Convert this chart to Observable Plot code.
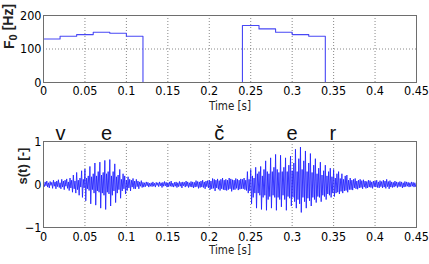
<!DOCTYPE html>
<html>
<head>
<meta charset="utf-8">
<script src="https://cdn.jsdelivr.net/npm/d3@7"></script>
<script src="https://cdn.jsdelivr.net/npm/@observablehq/plot@0.6"></script>
<style>
  html, body { margin: 0; padding: 0; background: #fff; }
  #chart svg { display: block; }
</style>
</head>
<body>
<div id="chart"></div>
<script>
// ---- data ----
const xTicks = [0, 0.05, 0.1, 0.15, 0.2, 0.25, 0.3, 0.35, 0.4, 0.45];
const xTickLabels = ["0", "0.05", "0.1", "0.15", "0.2", "0.25", "0.3", "0.35", "0.4", "0.45"];
const f0Ticks = [0, 100, 200];
const sTicks = [-1, 0, 1];

// F0 contour (step function), time [s] and F0 [Hz]
const f0Times  = [0,   0.02, 0.04, 0.06, 0.08, 0.10, 0.12, 0.24, 0.26, 0.28, 0.30, 0.32, 0.34, 0.45];
const f0Values = [130, 138,  143,  150,  147,  138,  0,    170,  160,  150,  143,  138,  0,    0];

// phoneme labels
const phonemes = ["v", "e", "č", "e", "r"];
const phonemeTimes = [0.0205, 0.076, 0.212, 0.300, 0.349];

// speech waveform s(t), one sample every 1 ms
const sampleStep = 0.001;
const waveA = [ // 0.000 - 0.119 s
  0.02,-0.05,0.06,-0.03,0.08,-0.06,0.04,-0.08,0.07,-0.02,
  0.05,-0.09,0.1,-0.04,0.06,-0.1,0.08,-0.05,0.11,-0.07,
  0.04,-0.1,0.12,-0.06,0.08,-0.12,0.1,-0.04,0.13,-0.09,
  0.06,-0.14,0.15,-0.08,0.1,-0.18,0.22,-0.1,0.08,-0.2,
  0.28,-0.12,0.1,-0.25,0.15,-0.06,0.32,-0.3,0.12,-0.08,
  0.36,-0.38,0.15,-0.1,0.2,-0.14,0.42,-0.45,0.18,-0.12,
  0.25,-0.2,0.5,-0.48,0.2,-0.15,0.3,-0.18,0.52,-0.55,
  0.22,-0.2,0.28,-0.25,0.56,-0.58,0.25,-0.18,0.3,-0.22,
  0.58,-0.5,0.2,-0.25,0.3,-0.15,0.48,-0.42,0.18,-0.2,
  0.22,-0.12,0.35,-0.32,0.12,-0.15,0.25,-0.1,0.2,-0.22,
  0.1,-0.14,0.18,-0.08,0.12,-0.15,0.1,-0.06,0.14,-0.1,
  0.08,-0.1,0.12,-0.05,0.08,-0.1,0.06,-0.04,0.09,-0.07
];
const waveB = [ // 0.120 - 0.239 s
  0.05,-0.06,0.04,-0.05,0.06,-0.03,0.05,-0.06,0.03,-0.04,
  0.04,-0.05,0.06,-0.04,0.03,-0.06,0.05,-0.02,0.04,-0.05,
  0.06,-0.03,0.04,-0.07,0.05,-0.04,0.07,-0.03,0.05,-0.06,
  0.04,-0.05,0.06,-0.04,0.08,-0.05,0.03,-0.06,0.05,-0.04,
  0.06,-0.07,0.04,-0.05,0.07,-0.04,0.05,-0.08,0.06,-0.03,
  0.05,-0.06,0.08,-0.04,0.06,-0.07,0.04,-0.05,0.07,-0.06,
  0.06,-0.08,0.05,-0.06,0.09,-0.05,0.07,-0.09,0.06,-0.07,
  0.08,-0.06,0.1,-0.07,0.06,-0.1,0.08,-0.05,0.09,-0.08,
  0.1,-0.12,0.08,-0.1,0.14,-0.09,0.12,-0.15,0.1,-0.08,
  0.13,-0.11,0.09,-0.14,0.12,-0.1,0.15,-0.12,0.1,-0.13,
  0.12,-0.14,0.1,-0.12,0.15,-0.1,0.13,-0.16,0.11,-0.12,
  0.1,-0.12,0.14,-0.09,0.12,-0.13,0.1,-0.11,0.13,-0.1
];
const waveC = [ // 0.240 - 0.450 s
  0.12,-0.1,0.15,-0.12,0.1,-0.14,0.3,-0.2,0.12,-0.15,
  0.35,-0.45,0.2,-0.3,0.15,-0.2,0.4,-0.55,0.25,-0.2,
  0.3,-0.25,0.42,-0.58,0.2,-0.3,0.35,-0.25,0.55,-0.6,
  0.3,-0.35,0.25,-0.28,0.62,-0.55,0.3,-0.25,0.4,-0.3,
  0.7,-0.6,0.35,-0.3,0.28,-0.35,0.68,-0.52,0.3,-0.25,
  0.4,-0.35,0.62,-0.6,0.3,-0.28,0.45,-0.32,0.66,-0.5,
  0.32,-0.3,0.5,-0.4,0.82,-0.55,0.3,-0.35,0.6,-0.45,
  0.87,-0.65,0.35,-0.3,0.55,-0.4,0.78,-0.55,0.3,-0.32,
  0.5,-0.38,0.72,-0.5,0.28,-0.3,0.45,-0.35,0.6,-0.42,
  0.25,-0.28,0.38,-0.3,0.52,-0.4,0.22,-0.25,0.32,-0.28,
  0.45,-0.35,0.2,-0.22,0.3,-0.25,0.38,-0.3,0.18,-0.2,
  0.35,-0.28,0.15,-0.2,0.25,-0.18,0.3,-0.22,0.14,-0.16,
  0.25,-0.2,0.12,-0.15,0.2,-0.14,0.22,-0.18,0.1,-0.12,
  0.15,-0.12,0.1,-0.13,0.12,-0.08,0.14,-0.1,0.08,-0.11,
  0.1,-0.08,0.12,-0.07,0.09,-0.1,0.11,-0.06,0.08,-0.09,
  0.07,-0.08,0.1,-0.06,0.09,-0.07,0.06,-0.09,0.08,-0.05,
  0.08,-0.06,0.1,-0.07,0.06,-0.08,0.09,-0.05,0.07,-0.08,
  0.1,-0.06,0.08,-0.09,0.12,-0.05,0.07,-0.1,0.09,-0.06,
  0.06,-0.07,0.05,-0.06,0.08,-0.04,0.06,-0.07,0.05,-0.05,
  0.07,-0.05,0.06,-0.08,0.04,-0.06,0.07,-0.05,0.06,-0.04,
  0.05,-0.06,0.04,-0.05,0.06,-0.04,0.05,-0.06,0.04,-0.05,
  0.02
];

// ---- build ----
const f0Data = f0Times.map((t, i) => ({t, f: f0Values[i]}));
const samples = [...waveA, ...waveB, ...waveC];
const waveData = samples.map((s, i) => ({t: i * sampleStep, s}));
const phonData = phonemes.map((p, i) => ({p, t: phonemeTimes[i]}));

const FONT = "'DejaVu Sans Condensed', 'Liberation Sans', sans-serif";
const TICK_FS = 12.5;
const fmtX = d => xTickLabels[xTicks.findIndex(v => Math.abs(v - d) < 1e-9)];
const gridStyle = {stroke: "#555", strokeOpacity: 0.7, strokeDasharray: "1,2"};
const frameColor = "#6e6e6e";
const W = 429, ML = 43, MR = 13;

const topChart = Plot.plot({
  width: W, height: 118,
  marginTop: 15, marginBottom: 36, marginLeft: ML, marginRight: MR,
  style: {fontFamily: FONT, fontSize: TICK_FS + "px", color: "#000", background: "#fff", overflow: "visible"},
  x: {domain: [0, 0.45]},
  y: {domain: [0, 200]},
  marks: [
    Plot.gridX(xTicks.slice(1, -1), gridStyle),
    Plot.gridY([100], gridStyle),
    Plot.line(f0Data, {x: "t", y: "f", curve: "step-after", stroke: "#4848f5", strokeWidth: 1.1}),
    Plot.frame({stroke: frameColor}),
    Plot.axisX(xTicks, {tickSize: 0, tickPadding: 4, tickFormat: fmtX, label: null, fill: "#000", fontSize: TICK_FS}),
    Plot.axisY(f0Ticks, {tickSize: 0, tickPadding: 2, label: null, fill: "#000", fontSize: TICK_FS}),
    Plot.text(["Time [s]"], {frameAnchor: "bottom", dy: 27, fontSize: 11.5, fill: "#222"}),
    Plot.text(["F0 [Hz]"], {frameAnchor: "left", dx: -34, rotate: -90, fontSize: 14, fontWeight: "bold", fill: "#222",
      fontFamily: "'Liberation Sans', Arial, sans-serif"})
  ]
});

const bottomChart = Plot.plot({
  width: W, height: 146,
  marginTop: 23, marginBottom: 37, marginLeft: ML, marginRight: MR,
  style: {fontFamily: FONT, fontSize: TICK_FS + "px", color: "#000", background: "#fff", overflow: "visible"},
  x: {domain: [0, 0.45]},
  y: {domain: [-1, 1]},
  marks: [
    Plot.gridX(xTicks.slice(1, -1), gridStyle),
    Plot.line(waveData, {x: "t", y: "s", stroke: "#1f1fff", strokeWidth: 0.85}),
    Plot.frame({stroke: frameColor}),
    Plot.axisX(xTicks, {tickSize: 0, tickPadding: 5, tickFormat: fmtX, label: null, fill: "#000", fontSize: TICK_FS}),
    Plot.axisY(sTicks, {tickSize: 0, tickPadding: 2, label: null, fill: "#000", fontSize: TICK_FS}),
    Plot.text(["Time [s]"], {frameAnchor: "bottom", dy: 26, fontSize: 11.5, fill: "#222"}),
    Plot.text(["s(t) [-]"], {frameAnchor: "left", dx: -21, rotate: -90, fontSize: 13, fontWeight: "bold", fill: "#222",
      fontFamily: "'Liberation Sans', Arial, sans-serif"}),
    Plot.text(phonData, {x: "t", y: () => 1, text: "p", dy: -2, lineAnchor: "bottom", fontSize: 20, fontFamily: "'Liberation Sans', Arial, sans-serif", fill: "#111"})
  ]
});

// Turn the "0" of "F0" into a subscript (real text, via tspans)
d3.select(topChart).selectAll("text").each(function() {
  const t = d3.select(this);
  if (t.text() === "F0 [Hz]") {
    t.text(null);
    t.append("tspan").text("F");
    t.append("tspan").attr("dy", "0.3em").attr("font-size", "0.8em").text("0");
    t.append("tspan").attr("dy", "-0.3em").text(" [Hz]");
  }
});

const root = document.getElementById("chart");
root.appendChild(topChart);
root.appendChild(bottomChart);
</script>
</body>
</html>
